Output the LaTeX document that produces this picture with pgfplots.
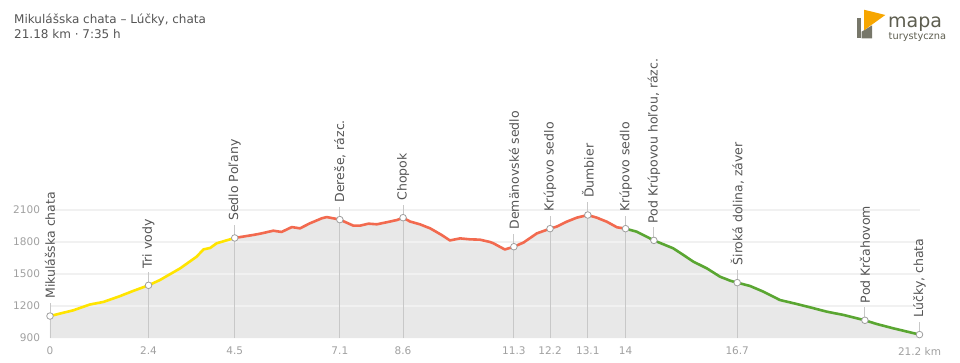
\documentclass[border=0pt]{standalone}
\usepackage{fontspec}
\setmainfont{DejaVu Sans}
\usepackage{pgfplots}
\usepackage{pgfplotstable}
\pgfplotsset{compat=1.18}
\definecolor{fillgray}{HTML}{E8E8E8}
\definecolor{gridc}{HTML}{F1F1F1}
\definecolor{vline}{HTML}{C8C8C8}
\definecolor{yel}{HTML}{FFE400}
\definecolor{redl}{HTML}{F26A4F}
\definecolor{grn}{HTML}{5AA632}
\definecolor{txt}{HTML}{555555}
\definecolor{tick}{HTML}{A0A0A0}
\definecolor{logog}{HTML}{77776A}
\definecolor{logoo}{HTML}{F7A600}
\definecolor{logot}{HTML}{5E5E50}

\pgfplotstableread{
x y
0.00 1106
0.57 1160
0.97 1214
1.30 1238
1.70 1292
2.03 1342
2.40 1394
2.68 1444
3.17 1553
3.57 1662
3.74 1731
3.90 1744
4.06 1788
4.50 1838
4.95 1866
5.12 1878
5.44 1906
5.64 1894
5.89 1940
6.09 1928
6.33 1975
6.62 2022
6.74 2034
7.06 2010
7.39 1953
7.55 1953
7.76 1972
7.96 1966
8.20 1985
8.45 2006
8.60 2028
8.77 1992
9.01 1966
9.26 1928
9.54 1866
9.74 1815
9.99 1834
10.23 1825
10.47 1822
10.72 1800
10.80 1788
11.08 1730
11.30 1756
11.53 1794
11.86 1881
12.18 1925
12.34 1944
12.59 1991
12.83 2028
13.10 2053
13.32 2028
13.56 1991
13.81 1938
14.02 1925
14.29 1897
14.71 1815
15.18 1741
15.43 1678
15.67 1616
16.00 1553
16.32 1475
16.57 1437
16.74 1419
17.05 1388
17.38 1334
17.78 1256
18.19 1219
18.51 1188
18.92 1147
19.33 1116
19.85 1066
20.14 1031
20.54 991
21.18 932
}\profile

\pgfplotstableread{
x y
0.00 1106
2.40 1394
4.50 1838
7.06 2010
8.60 2028
11.30 1756
12.18 1925
13.10 2053
14.02 1925
14.71 1815
16.74 1419
19.85 1066
21.18 932
}\waypoints

\begin{document}
\begin{tikzpicture}
\begin{axis}[
  at={(0,0)}, anchor=south west,
  scale only axis, width=869.5pt, height=128pt,
  xmin=0, xmax=21.18, ymin=900, ymax=2100,
  clip=false,
  axis line style={draw=none},
  major tick length=0pt,
  xtick={0,2.4,4.5,7.06,8.6,11.3,12.18,13.1,14.02,16.74,21.18},
  xticklabels={0,2.4,4.5,7.1,8.6,11.3,12.2,13.1,14,16.7,21.2 km},
  ytick={900,1200,1500,1800,2100},
  /pgf/number format/assume math mode=true,
  /pgf/number format/1000 sep={},
  tick label style={font=\fontsize{10.5}{12}\selectfont, text=tick},
  xticklabel style={yshift=-5.5pt},
  yticklabel style={xshift=-6.5pt},
]
% fill
\addplot[fill=fillgray, draw=none] table[x=x,y=y] {\profile} \closedcycle;
% grid
\addplot[gridc, line width=1.6pt] coordinates {(0,1200) (21.18,1200)};
\addplot[gridc, line width=1.6pt] coordinates {(0,1500) (21.18,1500)};
\addplot[gridc, line width=1.6pt] coordinates {(0,1800) (21.18,1800)};
\addplot[gridc, line width=1.6pt] coordinates {(0,2100) (21.18,2100)};
% vertical lines
\addplot[vline, line width=0.9pt] coordinates {(0,900) (0,1228)};
\addplot[vline, line width=0.9pt] coordinates {(2.40,900) (2.40,1516)};
\addplot[vline, line width=0.9pt] coordinates {(4.50,900) (4.50,1960)};
\addplot[vline, line width=0.9pt] coordinates {(7.06,900) (7.06,2132)};
\addplot[vline, line width=0.9pt] coordinates {(8.60,900) (8.60,2150)};
\addplot[vline, line width=0.9pt] coordinates {(11.30,900) (11.30,1878)};
\addplot[vline, line width=0.9pt] coordinates {(12.18,900) (12.18,2047)};
\addplot[vline, line width=0.9pt] coordinates {(13.10,900) (13.10,2175)};
\addplot[vline, line width=0.9pt] coordinates {(14.02,900) (14.02,2047)};
\addplot[vline, line width=0.9pt] coordinates {(14.71,1815) (14.71,1937)};
\addplot[vline, line width=0.9pt] coordinates {(16.74,900) (16.74,1541)};
\addplot[vline, line width=0.9pt] coordinates {(19.85,1066) (19.85,1188)};
\addplot[vline, line width=0.9pt] coordinates {(21.18,932) (21.18,1054)};
% coloured profile
\addplot[yel, line width=2.6pt, line join=round, restrict x to domain=0:4.501] table[x=x,y=y] {\profile};
\addplot[redl, line width=2.6pt, line join=round, restrict x to domain=4.499:14.021] table[x=x,y=y] {\profile};
\addplot[grn, line width=2.6pt, line join=round, restrict x to domain=14.019:21.2] table[x=x,y=y] {\profile};
% waypoint marks
\addplot[only marks, mark=*, mark size=3.3pt, mark options={fill=white, draw=gray!75, line width=0.8pt}] table[x=x,y=y] {\waypoints};
% labels
\tikzset{wl/.style={rotate=90, anchor=west, inner sep=0pt, text=txt, font=\fontsize{12.5}{14}\selectfont}}
\node[wl] at (axis cs:0,1266) {Mikulášska chata};
\node[wl] at (axis cs:2.40,1554) {Tri vody};
\node[wl] at (axis cs:4.50,1998) {Sedlo Poľany};
\node[wl] at (axis cs:7.06,2170) {Dereše, rázc.};
\node[wl] at (axis cs:8.60,2188) {Chopok};
\node[wl] at (axis cs:11.30,1916) {Demänovské sedlo};
\node[wl] at (axis cs:12.18,2085) {Krúpovo sedlo};
\node[wl] at (axis cs:13.10,2213) {Ďumbier};
\node[wl] at (axis cs:14.02,2085) {Krúpovo sedlo};
\node[wl] at (axis cs:14.71,1975) {Pod Krúpovou hoľou, rázc.};
\node[wl] at (axis cs:16.74,1579) {Široká dolina, záver};
\node[wl] at (axis cs:19.85,1226) {Pod Krčahovom};
\node[wl] at (axis cs:21.18,1092) {Lúčky, chata};
\end{axis}
% title
\node[anchor=base west, inner sep=0pt, text=txt, font=\fontsize{12}{14}\selectfont] at (-36pt,314pt) {Mikulášska chata – Lúčky, chata};
\node[anchor=base west, inner sep=0pt, text=txt, font=\fontsize{12}{14}\selectfont] at (-36pt,299pt) {21.18 km · 7:35 h};
% logo
\fill[logog] (807pt,299.7pt) rectangle (811pt,320.3pt);
\fill[logog] (811.6pt,299.7pt) -- (811.6pt,306.3pt) -- (822pt,312.6pt) -- (822pt,299.7pt) -- cycle;
\fill[logoo] (814pt,328.3pt) -- (835.3pt,323pt) -- (814pt,307.7pt) -- cycle;
\node[anchor=base west, inner sep=0pt, text=logot, font=\fontsize{19}{21}\selectfont] at (838pt,310pt) {mapa};
\node[anchor=base west, inner sep=0pt, text=logot, font=\fontsize{9.8}{11}\selectfont] at (838.5pt,298.5pt) {turystyczna};
\pgfresetboundingbox
\useasboundingbox (-50pt,-24pt) rectangle (910pt,338pt);
\end{tikzpicture}
\end{document}
